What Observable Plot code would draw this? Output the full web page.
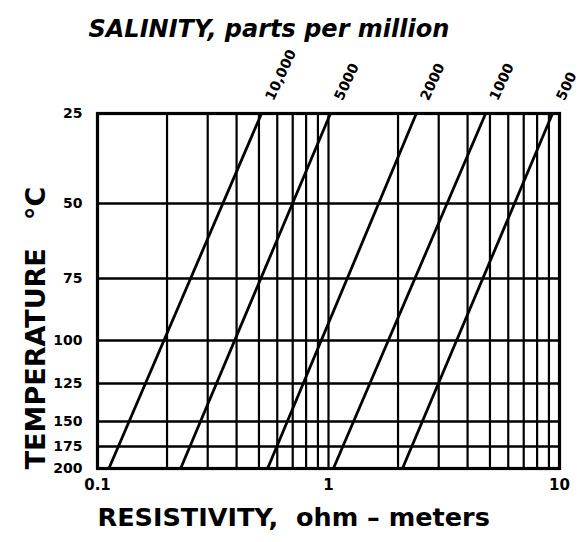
<!DOCTYPE html>
<html><head><meta charset="utf-8">
<script src="https://cdn.jsdelivr.net/npm/d3@7"></script>
<script src="https://cdn.jsdelivr.net/npm/@observablehq/plot@0.6"></script>
<style>
body{margin:0;background:#fff}
svg{display:block}
svg text{white-space:pre}
</style>
</head><body><div id="chart"></div>
<script>
// Temperature (°C) grid / tick values
const temperatures = [25, 50, 75, 100, 125, 150, 175, 200];
// Resistivity grid lines (ohm-m), log decades 0.1–10
const resistivityGrid = [0.1,0.2,0.3,0.4,0.5,0.6,0.7,0.8,0.9,1,2,3,4,5,6,7,8,9,10];
const xTickValues = [0.1, 1, 10];
const xTickLabels = ["0.1", "1", "10"];
// Salinity lines (ppm) and their resistivity at 25 °C and 200 °C
const salinityLabels = ["10,000", "5000", "2000", "1000", "500"];
const resistivityAt25 = [0.513, 1.02, 2.40, 4.79, 9.33];
const resistivityAt200 = [0.112, 0.229, 0.545, 1.05, 2.09];

const titleText = "SALINITY, parts per million";
const xLabelText = "RESISTIVITY,  ohm – meters";
const yLabelText = "TEMPERATURE   °C";

const tLow = temperatures[0], tHigh = temperatures[temperatures.length - 1];
const lines = salinityLabels.map((s, i) => ({
  salinity: s, r25: resistivityAt25[i], r200: resistivityAt200[i], t1: tLow, t2: tHigh
}));

const chart = Plot.plot({
  width: 580,
  height: 542,
  marginTop: 113,
  marginBottom: 74,
  marginLeft: 97,
  marginRight: 21,
  style: {fontFamily: "DejaVu Sans", fontWeight: "bold", background: "white", color: "black"},
  x: {type: "log", domain: [0.1, 10]},
  y: {type: "linear", domain: temperatures, range: [113, 203, 278, 340, 383, 421, 446, 468]},
  marks: [
    Plot.ruleX(resistivityGrid, {stroke: "black", strokeWidth: 2.2}),
    Plot.ruleY(temperatures, {stroke: "black", strokeWidth: 2.5}),
    Plot.link(lines, {x1: "r25", y1: "t1", x2: "r200", y2: "t2", stroke: "black", strokeWidth: 2.8}),
    Plot.frame({stroke: "black", strokeWidth: 3.2}),
    Plot.axisY(temperatures, {tickSize: 0, tickPadding: 15, fontSize: 14, label: null}),
    Plot.axisX(xTickValues, {tickSize: 0, tickPadding: 11, fontSize: 15, label: null,
      tickFormat: d => xTickLabels[xTickValues.indexOf(d)]}),
    Plot.text(lines, {x: "r25", y: "t1", text: "salinity", rotate: -65, textAnchor: "start",
      lineAnchor: "middle", dx: 8, dy: -14, fontSize: 14, fontWeight: "bold"}),
    Plot.text([titleText], {frameAnchor: "top-left", dx: -9, dy: -77, textAnchor: "start",
      lineAnchor: "bottom", fontSize: 24, fontStyle: "italic", fontWeight: "bold"}),
    Plot.text([xLabelText], {frameAnchor: "bottom-left", dx: 0, dy: 57, textAnchor: "start",
      lineAnchor: "bottom", fontSize: 25.5, fontWeight: "bold"}),
    Plot.text([yLabelText], {frameAnchor: "left", dx: -61, dy: 37, rotate: -90, textAnchor: "middle",
      lineAnchor: "middle", fontSize: 27, fontWeight: "bold"})
  ]
});
document.getElementById("chart").appendChild(chart);
</script>
</body></html>
